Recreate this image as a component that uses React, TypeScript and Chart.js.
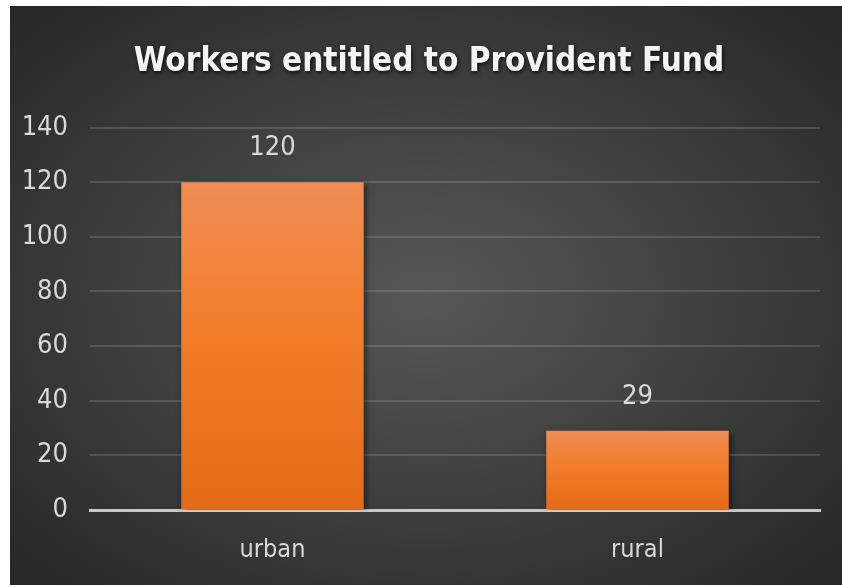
import React, { useEffect, useRef } from "react";
import { Chart, registerables } from "chart.js";

Chart.register(...registerables);

const title = "Workers entitled to Provident Fund";
const categories = ["urban", "rural"];
const values = [120, 29];
const yTicks = [0, 20, 40, 60, 80, 100, 120, 140];

const FONT = "'Liberation Sans Narrow', 'DejaVu Sans Condensed', 'Open Sans', sans-serif";

const valueLabels = {
  id: "valueLabels",
  afterDatasetsDraw(chart: any) {
    const ctx = chart.ctx;
    const meta = chart.getDatasetMeta(0);
    ctx.save();
    ctx.fillStyle = "#d9d9d9";
    ctx.font = `27px ${FONT}`;
    ctx.textAlign = "center";
    ctx.textBaseline = "middle";
    meta.data.forEach((bar: any, i: number) => {
      ctx.fillText(String(values[i]), bar.x, bar.y - 34);
    });
    ctx.restore();
  },
};

const barShadow = {
  id: "barShadow",
  beforeDatasetsDraw(chart: any) {
    const ctx = chart.ctx;
    ctx.save();
    ctx.shadowColor = "rgba(0,0,0,0.55)";
    ctx.shadowBlur = 6;
    ctx.shadowOffsetX = 2;
    ctx.shadowOffsetY = 2;
  },
  afterDatasetsDraw(chart: any) {
    chart.ctx.restore();
  },
};

const titleText = {
  id: "titleText",
  afterDraw(chart: any) {
    const ctx = chart.ctx;
    const box = chart.titleBlock;
    ctx.save();
    ctx.font = `bold 33px ${FONT}`;
    ctx.fillStyle = "#f4f4f4";
    ctx.textAlign = "center";
    ctx.textBaseline = "middle";
    ctx.shadowColor = "rgba(0,0,0,0.75)";
    ctx.shadowBlur = 4;
    ctx.shadowOffsetX = 1;
    ctx.shadowOffsetY = 2;
    const y = box ? box.top + 37 + (33 * 1.2) / 2 : 56;
    ctx.fillText(title, chart.width / 2 + 3, y);
    ctx.restore();
  },
};

export default function App() {
  const ref = useRef<HTMLCanvasElement>(null);
  useEffect(() => {
    document.body.style.margin = "0";
    const canvas = ref.current!;
    const chart = new Chart(canvas, {
      type: "bar",
      data: {
        labels: categories,
        datasets: [
          {
            data: values,
            backgroundColor: (c: any) => {
              const ch = c.chart;
              if (!ch.chartArea || c.dataIndex === undefined) return "#f07b25";
              const ys = ch.scales.y;
              const top = ys.getPixelForValue(values[c.dataIndex]);
              const bottom = ys.getPixelForValue(0);
              const g = ch.ctx.createLinearGradient(0, top, 0, bottom);
              g.addColorStop(0, "#f08d55");
              g.addColorStop(0.45, "#f27d2b");
              g.addColorStop(1, "#e36a17");
              return g;
            },
            borderWidth: 0,
            barPercentage: 0.5,
            categoryPercentage: 1,
          },
        ],
      },
      options: {
        responsive: false,
        animation: false,
        layout: { padding: { right: 22, left: 0, top: 0, bottom: 0 } },
        plugins: {
          legend: { display: false },
          tooltip: { enabled: false },
          title: {
            display: true,
            text: title,
            color: "rgba(0,0,0,0)",
            font: { family: FONT, size: 33, weight: "bold" },
            padding: { top: 37, bottom: 45 },
          },
        },
        scales: {
          x: {
            grid: { display: false, drawTicks: false },
            border: { display: true, color: "#c8c8c8", width: 3 },
            ticks: { color: "#d9d9d9", font: { family: FONT, size: 25 }, padding: 25 },
            afterFit: (s: any) => {
              s.height = 75;
            },
          },
          y: {
            min: 0,
            max: 140,
            afterBuildTicks: (s: any) => {
              s.ticks = yTicks.map((v) => ({ value: v }));
            },
            grid: { color: "rgba(255,255,255,0.14)", lineWidth: 2, drawTicks: false },
            border: { display: false },
            ticks: { color: "#d9d9d9", font: { family: FONT, size: 27 }, padding: 22 },
            afterFit: (s: any) => {
              s.width = 80;
            },
          },
        },
      },
      plugins: [barShadow, valueLabels, titleText],
    });
    return () => chart.destroy();
  }, []);
  return (
    <div style={{ position: "fixed", left: 0, top: 0, width: 842, height: 587, background: "#fff" }}>
      <div
        style={{
          position: "absolute",
          left: 10,
          top: 6,
          width: 832,
          height: 579,
          background: "radial-gradient(ellipse at 50% 50%, #575757 0%, #3c3c3c 55%, #262626 100%)",
        }}
      >
        <canvas ref={ref} width={832} height={579} style={{ display: "block" }} />
      </div>
    </div>
  );
}
